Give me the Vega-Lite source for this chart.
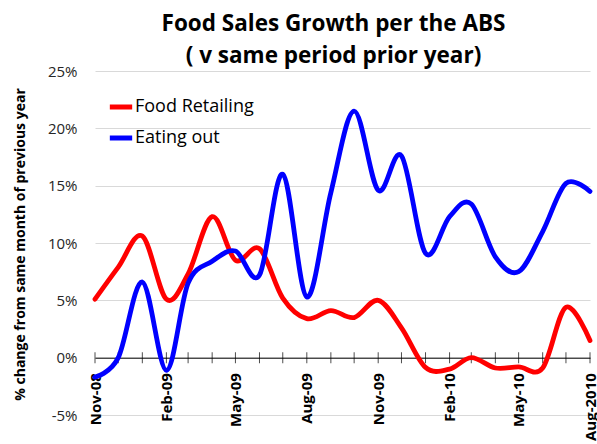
{
  "$schema": "https://vega.github.io/schema/vega-lite/v6.json",
  "width": 495,
  "height": 344,
  "autosize": {"type": "none"},
  "padding": {"left": 95, "top": 71, "right": 7, "bottom": 29},
  "background": "white",
  "config": {"font": "Open Sans", "view": {"stroke": null}},
  "title": {
    "text": ["Food Sales Growth per the ABS", "( v same period prior year)"],
    "fontSize": 22.5,
    "font": "Open Sans",
    "fontWeight": "bold",
    "color": "black",
    "anchor": "middle",
    "frame": "group",
    "lineHeight": 32,
    "offset": 10,
    "dx": -9,
    "dy": 36,
    "baseline": "bottom"
  },
  "data": {
    "values": [
      {"month": "2008-11-01", "Food Retailing": 5.1, "Eating out": -1.7},
      {"month": "2008-12-01", "Food Retailing": 7.9, "Eating out": 0.0},
      {"month": "2009-01-01", "Food Retailing": 10.6, "Eating out": 6.6},
      {"month": "2009-02-01", "Food Retailing": 5.1, "Eating out": -1.1},
      {"month": "2009-03-01", "Food Retailing": 7.3, "Eating out": 6.5},
      {"month": "2009-04-01", "Food Retailing": 12.3, "Eating out": 8.4},
      {"month": "2009-05-01", "Food Retailing": 8.5, "Eating out": 9.3},
      {"month": "2009-06-01", "Food Retailing": 9.5, "Eating out": 7.2},
      {"month": "2009-07-01", "Food Retailing": 5.2, "Eating out": 16.0},
      {"month": "2009-08-01", "Food Retailing": 3.4, "Eating out": 5.3},
      {"month": "2009-09-01", "Food Retailing": 4.1, "Eating out": 14.4},
      {"month": "2009-10-01", "Food Retailing": 3.5, "Eating out": 21.5},
      {"month": "2009-11-01", "Food Retailing": 5.0, "Eating out": 14.6},
      {"month": "2009-12-01", "Food Retailing": 2.6, "Eating out": 17.6},
      {"month": "2010-01-01", "Food Retailing": -0.85, "Eating out": 9.1},
      {"month": "2010-02-01", "Food Retailing": -1.0, "Eating out": 12.3},
      {"month": "2010-03-01", "Food Retailing": 0.0, "Eating out": 13.4},
      {"month": "2010-04-01", "Food Retailing": -0.9, "Eating out": 8.8},
      {"month": "2010-05-01", "Food Retailing": -0.8, "Eating out": 7.5},
      {"month": "2010-06-01", "Food Retailing": -0.9, "Eating out": 11.0},
      {"month": "2010-07-01", "Food Retailing": 4.4, "Eating out": 15.2},
      {"month": "2010-08-01", "Food Retailing": 1.5, "Eating out": 14.5}
    ]
  },
  "transform": [{"fold": ["Food Retailing", "Eating out"], "as": ["series", "value"]}],
  "encoding": {
    "x": {
      "field": "month",
      "type": "temporal",
      "scale": {"type": "utc", "nice": false},
      "axis": {
        "title": null,
        "values": [
          {"year": 2008, "month": 11, "date": 1, "utc": true},
          {"year": 2009, "month": 2, "date": 1, "utc": true},
          {"year": 2009, "month": 5, "date": 1, "utc": true},
          {"year": 2009, "month": 8, "date": 1, "utc": true},
          {"year": 2009, "month": 11, "date": 1, "utc": true},
          {"year": 2010, "month": 2, "date": 1, "utc": true},
          {"year": 2010, "month": 5, "date": 1, "utc": true},
          {"year": 2010, "month": 8, "date": 1, "utc": true}
        ],
        "labelExpr": "(utcyear(datum.value) == 2010 && utcmonth(datum.value) == 7) ? 'Aug-2010' : utcFormat(datum.value, '%b-%y')",
        "offset": -57.33,
        "domainColor": "black",
        "domainWidth": 1,
        "ticks": false,
        "grid": false,
        "labelAngle": -90,
        "labelAlign": "right",
        "labelBaseline": "middle",
        "labelFontSize": 15,
        "labelFontWeight": "bold",
        "labelFont": "Open Sans",
        "labelColor": "black",
        "labelPadding": 15,
        "labelOverlap": false,
        "labelFlush": false,
        "labelBound": false
      }
    }
  },
  "layer": [
    {
      "transform": [{"filter": "datum.series == 'Food Retailing'"}],
      "mark": {"type": "tick", "orient": "vertical", "size": 11, "thickness": 1, "color": "black"},
      "encoding": {
        "y": {"datum": 0, "type": "quantitative"}
      }
    },
    {
      "mark": {"type": "line", "interpolate": "cardinal", "strokeWidth": 4.8, "strokeCap": "round"},
      "encoding": {
        "y": {
          "field": "value",
          "type": "quantitative",
          "title": "% change from same month of previous year",
          "scale": {"domain": [-5, 25], "nice": false, "zero": false},
          "axis": {
            "values": [-5, 0, 5, 10, 15, 20, 25],
            "labelExpr": "datum.value + '%'",
            "grid": true,
            "gridColor": "#d9d9d9",
            "gridWidth": 1,
            "domain": false,
            "ticks": false,
            "labelFontSize": 15,
            "labelFont": "Open Sans",
            "labelColor": "#262626",
            "labelPadding": 18,
            "titleFont": "Open Sans",
            "titleFontSize": 14,
            "titleFontWeight": "bold",
            "titleColor": "black",
            "titleX": -75,
            "titleY": 173,
            "titleAngle": -90,
            "titleAlign": "center",
            "titleBaseline": "middle"
          }
        },
        "color": {
          "field": "series",
          "type": "nominal",
          "scale": {"domain": ["Food Retailing", "Eating out"], "range": ["#ff0000", "#0000ff"]},
          "legend": {
            "orient": "none",
            "legendX": 12,
            "legendY": 22,
            "title": null,
            "symbolType": "stroke",
            "symbolStrokeWidth": 5,
            "symbolSize": 500,
            "labelFontSize": 18,
            "labelFont": "Open Sans",
            "labelColor": "black",
            "labelOffset": 0,
            "rowPadding": 7,
            "padding": 0
          }
        }
      }
    }
  ]
}
